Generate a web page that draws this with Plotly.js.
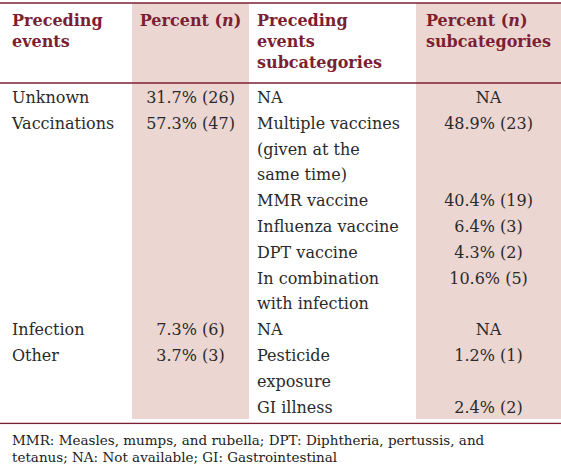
<!DOCTYPE html>
<html>
<head>
<meta charset="utf-8">
<script src="https://cdn.plot.ly/plotly-3.0.1.min.js"></script>
<style>html,body{margin:0;padding:0;background:#fff;}#chart{width:561px;height:464px;}</style>
</head>
<body>
<div id="chart"></div>
<script>
// ---- data ----
var headers = ["Preceding<br>events", "Percent\u00a0(<i>n</i>)", "Preceding<br>events<br>subcategories", "Percent\u00a0(<i>n</i>)<br>subcategories"];
var events = ["Unknown", "Vaccinations", "", "", "", "", "", "", "", "Infection", "Other", "", ""];
var eventPercents = ["31.7% (26)", "57.3% (47)", "", "", "", "", "", "", "", "7.3% (6)", "3.7% (3)", "", ""];
var subcategories = ["NA", "Multiple vaccines", "(given at the", "same time)", "MMR vaccine", "Influenza vaccine", "DPT vaccine", "In combination", "with infection", "NA", "Pesticide", "exposure", "GI illness"];
var subPercents = ["NA", "48.9% (23)", "", "", "40.4% (19)", "6.4% (3)", "4.3% (2)", "10.6% (5)", "", "NA", "1.2% (1)", "", "2.4% (2)"];
var footnoteLines = ["MMR: Measles, mumps, and rubella; DPT: Diphtheria, pertussis, and", "tetanus; NA: Not available; GI: Gastrointestinal"];

// ---- styles ----
var FONT = "'DejaVu Serif', serif";
var shade = "#ecd6d2";
var dark = "#7b1f33";
var textCol = "#2a2a2a";
var colFills = ["#ffffff", shade, "#ffffff", shade];
var H = 464, W = 561;
function py(px) { return 1 - px / H; }

var trace = {
  type: "table",
  domain: {x: [4 / W, 1], y: [py(440), py(3)]},
  columnwidth: [128, 117, 167, 145],
  header: {
    values: headers,
    align: ["left", "center", "left", "center"],
    fill: {color: colFills},
    line: {color: colFills, width: 1},
    font: {family: FONT, size: 16, color: dark, weight: "bold"},
    height: 80
  },
  cells: {
    values: [events, eventPercents, subcategories, subPercents],
    align: ["left", "center", "left", "center"],
    fill: {color: colFills},
    line: {color: colFills, width: 1},
    font: {family: FONT, size: 16, color: textCol},
    height: 25.8
  }
};

var annotations = footnoteLines.map(function (t, i) {
  return {text: t, xref: "paper", yref: "paper", x: 10 / W, y: py(439.5 + 17 * i), xanchor: "left", yanchor: "middle",
          showarrow: false, align: "left", font: {family: FONT, size: 13.5, color: "#222"}};
});

var layout = {
  width: W, height: H,
  margin: {l: 0, r: 0, t: 0, b: 0},
  paper_bgcolor: "#ffffff",
  showlegend: false,
  shapes: [
    {type: "line", xref: "paper", yref: "paper", x0: 0, x1: 1, y0: py(3), y1: py(3), line: {color: dark, width: 1.5}},
    {type: "line", xref: "paper", yref: "paper", x0: 0, x1: 1, y0: py(83), y1: py(83), line: {color: dark, width: 1.5}},
    {type: "line", xref: "paper", yref: "paper", x0: 0, x1: 1, y0: py(423.5), y1: py(423.5), line: {color: dark, width: 1.5}},
    {type: "rect", xref: "paper", yref: "paper", x0: 0, x1: 1, y0: 0, y1: py(424.3), fillcolor: "#ffffff", line: {width: 0}, layer: "above"}
  ],
  annotations: annotations
};

Plotly.newPlot("chart", [trace], layout, {displayModeBar: false, staticPlot: true});
</script>
</body>
</html>
